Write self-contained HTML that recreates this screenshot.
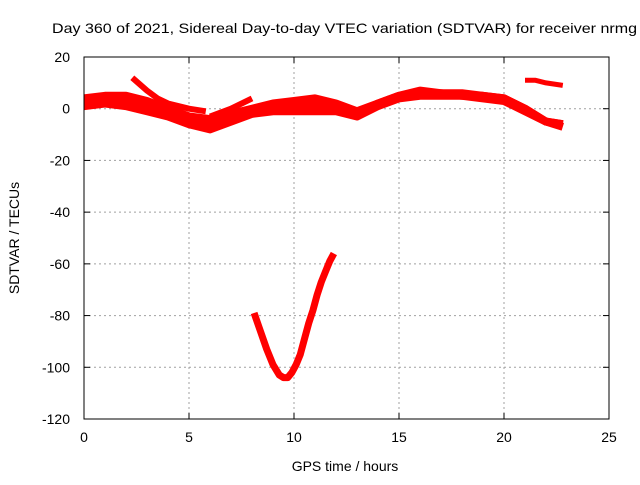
<!DOCTYPE html>
<html><head><meta charset="utf-8"><style>
body{margin:0;background:#fff}
text{font-family:"Liberation Sans",sans-serif;font-size:14px;fill:#000}
</style></head><body>
<svg id="chart" width="640" height="480" viewBox="0 0 640 480" xmlns="http://www.w3.org/2000/svg">
<text x="52" y="33" font-size="15" textLength="585" lengthAdjust="spacingAndGlyphs">Day 360 of 2021, Sidereal Day-to-day VTEC variation (SDTVAR) for receiver nrmg</text>
<text x="345" y="471" text-anchor="middle" font-size="15">GPS time / hours</text>
<text transform="translate(19,238) rotate(-90)" text-anchor="middle" font-size="15">SDTVAR / TECUs</text>
<g id="grid"></g><g id="ticks"></g><g id="series"></g>
<rect x="84" y="57" width="525" height="362" fill="none" stroke="#000" stroke-width="1"/>
</svg>
<script>
const xTicks=[0,5,10,15,20,25];
const yTicks=[20,0,-20,-40,-60,-80,-100,-120];
const trackAHours=[0,1,2,3,4,5,6,7,8,9,10,11,12,13,14,15,16,17,18,19,20,21,22,22.8];
const trackAValues=[4,5,5,3,0,-3,-4,-2,0,2,3,4,2,-1,2,5,7,6,6,5,4,0,-5,-6];
const trackMHours=[0,1,2,3,4,5,6,7,8,9,10,11,12,13,14,15,16,17,18,19,20,21,22,22.8];
const trackMValues=[3,4,3,1,-1,-4,-6,-4,-1,0,1,1,0,-2,2,5,6,6,5,5,4,0,-5,-6];
const trackBHours=[0,1,2,3,4,5,6,7,8,9,10,11,12,13,14,15,16,17,18,19,20,21,22,22.8];
const trackBValues=[1,2,1,-1,-3,-6,-8,-5,-2,-1,-1,-1,-1,-3,1,4,5,5,5,4,3,-1,-5,-7];
const trackCHours=[2.3,3,3.5,4,5,5.8];
const trackCValues=[12,7,4,2,0,-1];
const trackDHours=[6,7,8];
const trackDValues=[-3,0,4];
const trackEHours=[21,21.5,22,22.8];
const trackEValues=[11,11,10,9];
const dipHours=[8.1,8.4,8.7,9,9.3,9.5,9.7,9.9,10.1,10.3,10.5,10.7,10.9,11.1,11.3,11.5,11.7,11.9];
const dipValues=[-79,-86,-93,-99,-103,-104,-104,-102,-99,-95,-89,-83,-78,-72,-67,-63,-59,-56];
const X0=84,X1=609,Y0=57,Y1=419;
const xs=h=>X0+(h-0)/25*(X1-X0);
const ys=v=>Y0+(20-v)/140*(Y1-Y0);
const NS="http://www.w3.org/2000/svg";
const grid=document.getElementById('grid'),ticks=document.getElementById('ticks'),ser=document.getElementById('series');
function mk(t,a,p){const e=document.createElementNS(NS,t);for(const k in a)e.setAttribute(k,a[k]);p.appendChild(e);return e;}
xTicks.forEach(t=>{const x=xs(t);
 if(t>0&&t<25){const g=mk('line',{x1:x,x2:x,y1:Y0,y2:Y1,stroke:'#a0a0a0','stroke-dasharray':'2,3'},grid);
 
 }
 const tk=mk('line',{x1:x,x2:x,y1:Y1,y2:Y1-6,stroke:'#000'},ticks);
 
 
 const tk2=mk('line',{x1:x,x2:x,y1:Y0,y2:Y0+6,stroke:'#000'},ticks);
 
 
 const l=mk('text',{x:x,y:442,'text-anchor':'middle','font-size':15},ticks);l.textContent=t;
 
 });
yTicks.forEach(t=>{const y=ys(t);
 if(t<20&&t>-120){const g=mk('line',{x1:X0,x2:X1,y1:y,y2:y,stroke:'#a0a0a0','stroke-dasharray':'2,3'},grid);
 
 }
 const tk=mk('line',{x1:X0,x2:X0+6,y1:y,y2:y,stroke:'#000'},ticks);
 
 
 const tk2=mk('line',{x1:X1,x2:X1-6,y1:y,y2:y,stroke:'#000'},ticks);
 
 
 const l=mk('text',{x:70,y:y+5,'text-anchor':'end','font-size':15},ticks);l.textContent=t;
 
 });
const sets=[[trackAHours,trackAValues,'track-a',8],[trackMHours,trackMValues,'track-m',8],[trackBHours,trackBValues,'track-b',8],[trackCHours,trackCValues,'track-c',6],[trackDHours,trackDValues,'track-d',6],[trackEHours,trackEValues,'track-e',5],[dipHours,dipValues,'dip-track',7]];
sets.forEach(([h,v,n,w])=>{
 const pts=h.map((hh,i)=>xs(hh).toFixed(1)+','+ys(v[i]).toFixed(1)).join(' ');
 const p=mk('polyline',{points:pts,fill:'none',stroke:'#ff0000','stroke-width':w,'stroke-linejoin':'round','stroke-linecap':'butt'},ser);
 
 });
</script>
</body></html>
